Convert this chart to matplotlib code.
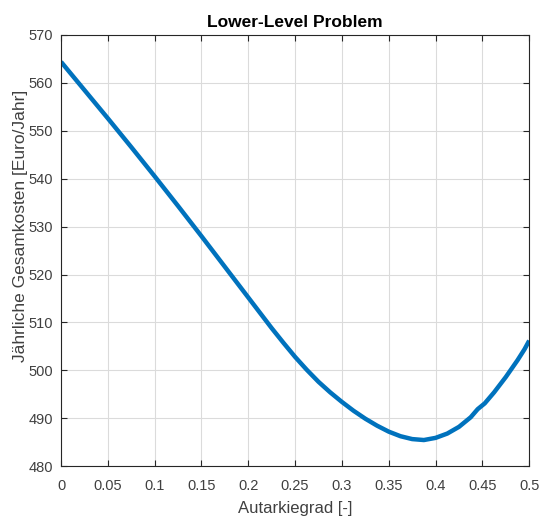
import matplotlib
matplotlib.use('Agg')
import matplotlib.pyplot as plt
import numpy as np

# values
autarkiegrad = [0, 0.025, 0.05, 0.075, 0.1, 0.125, 0.15, 0.175, 0.2, 0.2125, 0.225,
                0.2375, 0.25, 0.2625, 0.275, 0.2875, 0.3, 0.3125, 0.325, 0.3375, 0.35,
                0.3625, 0.375, 0.3875, 0.4, 0.4125, 0.425, 0.4375, 0.445, 0.4525,
                0.4625, 0.475, 0.4875, 0.495, 0.5]
kosten = [564.4, 558.5, 552.6, 546.6, 540.5, 534.3, 528.0, 521.6, 515.2, 512.0, 508.8,
          505.75, 502.8, 500.1, 497.6, 495.4, 493.4, 491.55, 489.9, 488.45, 487.2,
          486.25, 485.65, 485.45, 485.9, 486.8, 488.2, 490.2, 491.9, 493.1,
          495.4, 498.6, 502.1, 504.4, 506.2]
xticks = [0, 0.05, 0.1, 0.15, 0.2, 0.25, 0.3, 0.35, 0.4, 0.45, 0.5]
xticklabels = ['0', '0.05', '0.1', '0.15', '0.2', '0.25', '0.3', '0.35', '0.4', '0.45', '0.5']
yticks = [480, 490, 500, 510, 520, 530, 540, 550, 560, 570]

plt.rcParams['font.family'] = ['Liberation Sans', 'DejaVu Sans']
tick_col = (0.15, 0.15, 0.15)
text_col = (0.25, 0.25, 0.25)

fig = plt.figure(figsize=(5.4, 5.22), dpi=100)
ax = fig.add_axes([0.113, 0.107, 0.867, 0.826])

ax.plot(autarkiegrad, kosten, color=(0, 0.447, 0.741), lw=3.2,
        solid_capstyle='butt', solid_joinstyle='round')

ax.set_xlim(0, 0.5)
ax.set_ylim(480, 570)
ax.set_xticks(xticks)
ax.set_xticklabels(xticklabels)
ax.set_yticks(yticks)
ax.grid(True, color=(0.86, 0.86, 0.86), lw=0.8)
ax.set_axisbelow(True)
ax.tick_params(direction='in', top=True, right=True, length=4, width=0.8,
               colors=tick_col, labelcolor=text_col, labelsize=10.5)
ax.tick_params(axis='x', pad=9)
ax.tick_params(axis='y', pad=6)
for s in ax.spines.values():
    s.set_color(tick_col)
    s.set_linewidth(0.8)

ax.set_xlabel('Autarkiegrad [-]', fontsize=12, color=text_col)
ax.xaxis.set_label_coords(0.5, -0.08)
ax.set_ylabel('Jährliche Gesamkosten [Euro/Jahr]', fontsize=12.5, color=text_col)
ax.yaxis.set_label_coords(-0.07, 0.557)
ax.set_title('Lower-Level Problem', fontsize=12.5, fontweight='bold', pad=6)

fig.savefig('out.png', dpi=100)
